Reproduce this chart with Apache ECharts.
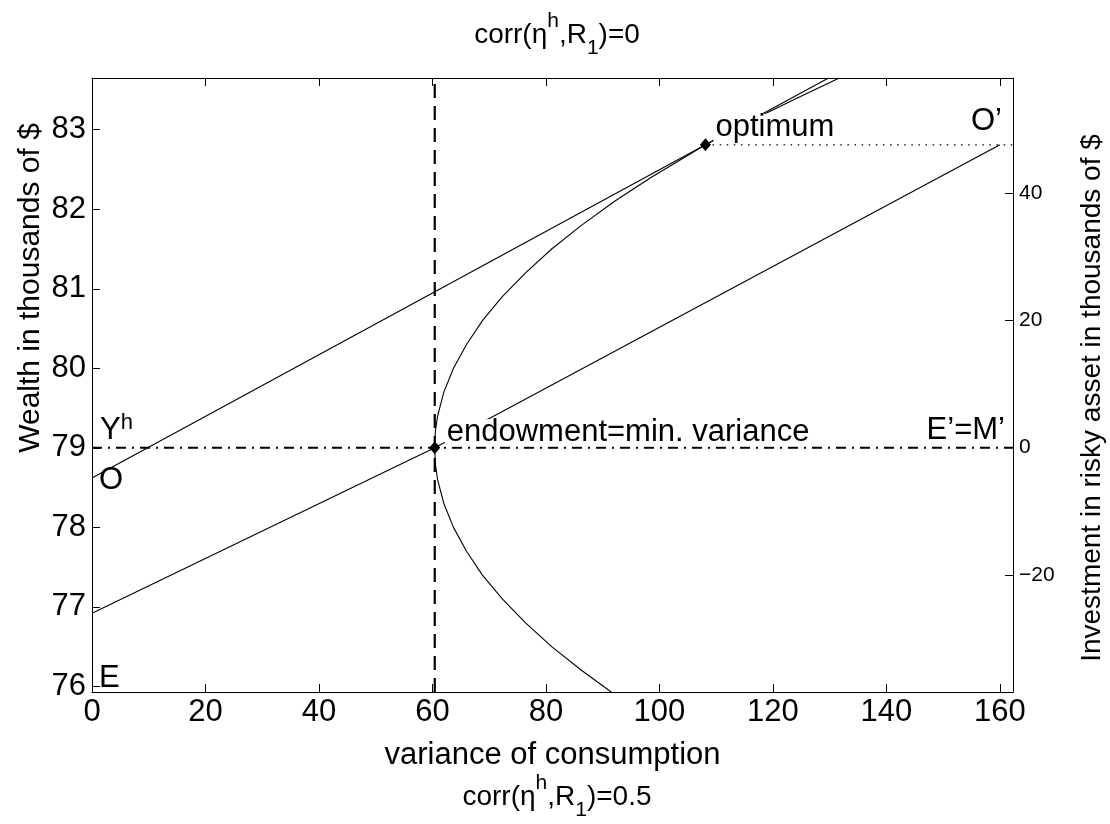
<!DOCTYPE html>
<html><head><meta charset="utf-8">
<script src="https://cdn.jsdelivr.net/npm/echarts@6/dist/echarts.min.js"></script>
<style>html,body{margin:0;padding:0;background:#fff}#c{width:1110px;height:824px}</style>
</head><body><div id="c"></div>
<script>
// ---- data ----
const xTicks = [0, 20, 40, 60, 80, 100, 120, 140, 160];
const yTicks = [76, 77, 78, 79, 80, 81, 82, 83];
const y2Ticks = [-20, 0, 20, 40];
const xRange = [0, 162.3];
const yRange = [75.93, 83.65];
const y2Range = [-38.4, 58.1];
// frontier: [variance, wealth]
const frontier = [
  [91.5, 75.93], [86.3, 76.2], [81.0, 76.5], [76.4, 76.8], [72.3, 77.1], [68.8, 77.4],
  [66.0, 77.7], [63.7, 78.0], [62.0, 78.3], [60.9, 78.6], [60.5, 78.8], [60.4, 79.0],
  [60.5, 79.2], [60.9, 79.4], [62.0, 79.7], [63.7, 80.0], [66.0, 80.3], [68.8, 80.6],
  [72.3, 80.9], [76.4, 81.2], [81.0, 81.5], [86.3, 81.8], [92.1, 82.1], [98.5, 82.4],
  [103.2, 82.6], [108.1, 82.81], [113.2, 83.0], [118.6, 83.2], [124.3, 83.4], [131.7, 83.65]
];
const lineO = [[0, 78.62], [108.1, 82.81], [129.8, 83.65]];
const lineE = [[0, 76.92], [60.4, 79]];
const lineEO = [[60.4, 79], [160.0, 82.81]];
const endowment = [60.4, 79];
const optimum = [108.1, 82.81];
const pointO2 = [160.0, 82.81];
const minVarLine = [[60.4, 75.93], [60.4, 83.65]];
const endowLevel = [[0, 79], [162.3, 79]];
const optLevel = [[108.1, 82.81], [162.3, 82.81]];

const FONT = 'Liberation Sans';
const FS = 31;
const chart = echarts.init(document.getElementById('c'), null, {renderer: 'canvas'});

function lineSeries(data, lineStyle, z) {
  return {type: 'line', data: data, showSymbol: false, symbol: 'none', silent: true,
    animation: false, z: z || 2, lineStyle: Object.assign({color: '#000', width: 1, opacity: 1}, lineStyle)};
}
function textSeries(point, text, labelOpt) {
  return {type: 'scatter', data: [point], symbolSize: 0, silent: true, animation: false, z: 5,
    itemStyle: {opacity: 1, color: '#000'},
    label: Object.assign({show: true, formatter: text, color: '#000', opacity: 1, fontFamily: FONT,
      fontSize: FS, fontWeight: 'normal',
      rich: {sup: {fontSize: 22, fontFamily: FONT, color: '#000', verticalAlign: 'top', lineHeight: 20},
             n: {fontSize: FS, fontFamily: FONT, color: '#000', lineHeight: 38}}}, labelOpt)};
}

const richTitle = {
  n: {fontSize: 28, fontFamily: FONT, fontWeight: 'normal', color: '#000', lineHeight: 48, verticalAlign: 'middle'},
  sup: {fontSize: 21, fontFamily: FONT, fontWeight: 'normal', color: '#000', lineHeight: 24, verticalAlign: 'top'},
  sub: {fontSize: 21, fontFamily: FONT, fontWeight: 'normal', color: '#000', lineHeight: 24, verticalAlign: 'bottom'}
};
const axisCommon = {
  axisLine: {show: true, onZero: false, lineStyle: {color: '#000', width: 1}},
  splitLine: {show: false},
  axisTick: {show: true, inside: true, length: 8, lineStyle: {color: '#000', width: 1}}
};

chart.setOption({
  backgroundColor: '#fff',
  animation: false,
  title: [
    {text: '{n|corr(η}{sup|h}{n|,R}{sub|1}{n|)=0}', left: 552, top: 6, textAlign: 'center',
     textStyle: {fontWeight: 'normal', rich: richTitle}},
    {text: '{n|corr(η}{sup|h}{n|,R}{sub|1}{n|)=0.5}', left: 552, top: 768, textAlign: 'center',
     textStyle: {fontWeight: 'normal', rich: richTitle}}
  ],
  grid: {left: 92, right: 97, top: 78, bottom: 132, containLabel: false, outerBoundsMode: 'none'},
  xAxis: [
    Object.assign({type: 'value', position: 'bottom', min: xRange[0], max: xRange[1],
      name: 'variance of consumption', nameLocation: 'middle', nameGap: 48,
      nameTextStyle: {fontSize: FS, fontFamily: FONT, color: '#000'},
      axisLabel: {customValues: xTicks, fontSize: FS, fontFamily: FONT, color: '#000', margin: 5}},
      axisCommon, {axisTick: Object.assign({}, axisCommon.axisTick, {customValues: xTicks})}),
    Object.assign({type: 'value', position: 'top', min: xRange[0], max: xRange[1],
      axisLabel: {show: false}}, axisCommon,
      {axisTick: Object.assign({}, axisCommon.axisTick, {customValues: xTicks})})
  ],
  yAxis: [
    Object.assign({type: 'value', position: 'left', min: yRange[0], max: yRange[1],
      axisLabel: {customValues: yTicks, fontSize: FS, fontFamily: FONT, color: '#000', margin: 6}},
      axisCommon, {axisTick: Object.assign({}, axisCommon.axisTick, {customValues: yTicks})}),
    Object.assign({type: 'value', position: 'right', min: y2Range[0], max: y2Range[1],
      axisLabel: {customValues: y2Ticks, fontSize: 21, fontFamily: FONT, color: '#000', margin: 6,
        formatter: v => String(v).replace('-', '\u2212')}},
      axisCommon, {axisTick: Object.assign({}, axisCommon.axisTick, {customValues: y2Ticks})})
  ],
  graphic: [
    {type: 'text', x: 31, y: 288, rotation: Math.PI / 2, silent: true,
     style: {text: 'Wealth in thousands of $', fill: '#000', font: '30px "Liberation Sans"',
       textAlign: 'center', textVerticalAlign: 'middle'}},
    {type: 'text', x: 1092, y: 398, rotation: Math.PI / 2, silent: true,
     style: {text: 'Investment in risky asset in thousands of $', fill: '#000', font: '28px "Liberation Sans"',
       textAlign: 'center', textVerticalAlign: 'middle'}}
  ],
  series: [
    lineSeries(frontier, {width: 1.1}),
    lineSeries(lineO, {width: 1.1}),
    lineSeries(lineE, {width: 1.1}),
    lineSeries(lineEO, {width: 1.1}),
    lineSeries(minVarLine, {width: 2.2, type: [14, 8]}, 3),
    lineSeries(endowLevel, {width: 2, type: [10, 6, 2, 6]}, 3),
    lineSeries(optLevel, {width: 1.2, type: [1.5, 5.6]}, 3),
    textSeries(optimum, 'optimum', {position: [8, -17], align: 'left', verticalAlign: 'middle',
      backgroundColor: '#fff', padding: [0, 2, 0, 2], lineHeight: 28}),
    textSeries(endowment, 'endowment=min. variance', {position: [10, -15], align: 'left', verticalAlign: 'middle',
      backgroundColor: '#fff', padding: [0, 2, 0, 2], lineHeight: 27}),
    textSeries(pointO2, "O’", {position: [2, -23], align: 'right', verticalAlign: 'middle'}),
    textSeries([xRange[1], endowLevel[1][1]], "E’=M’", {position: [-8, -17], align: 'right', verticalAlign: 'middle'}),
    textSeries(endowLevel[0], '{n|Y}{sup|h}', {position: [8, -17], align: 'left', verticalAlign: 'middle'}),
    textSeries(lineO[0], 'O', {position: [7, 2], align: 'left', verticalAlign: 'middle'}),
    textSeries([xRange[0], yRange[0]], 'E', {position: [7, -14], align: 'left', verticalAlign: 'middle'}),
    {type: 'scatter', data: [endowment, optimum], symbol: 'diamond', symbolSize: [11, 13], z: 8,
     silent: true, animation: false, itemStyle: {color: '#000', opacity: 1}}
  ]
});
</script></body></html>
